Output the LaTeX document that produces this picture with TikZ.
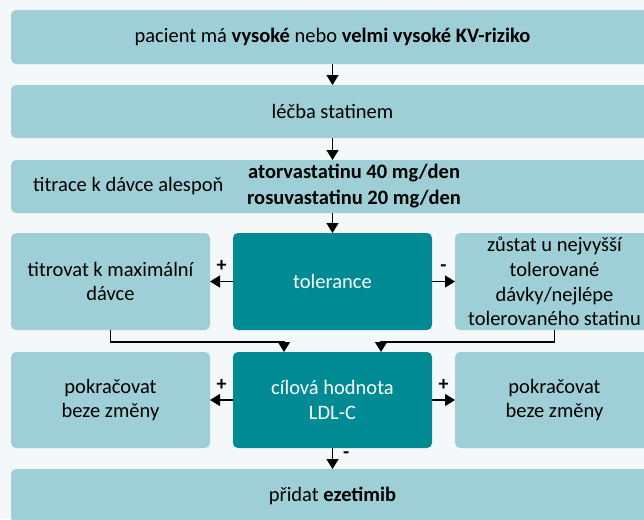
\documentclass[tikz,border=0pt]{standalone}
\usepackage{fontspec}
\setmainfont{Carlito}
\usetikzlibrary{arrows.meta,calc}
\definecolor{lightbox}{HTML}{9FCFD6}
\definecolor{darkbox}{HTML}{008B94}
\definecolor{bgcol}{HTML}{F5F8F8}
\begin{document}
\begin{tikzpicture}[x=1pt,y=-1pt,
  font=\fontsize{20.5}{24.7}\selectfont,
  box/.style={fill=lightbox, draw=none, rounded corners=5pt, inner sep=0pt, outer sep=0pt, align=center},
  dbox/.style={box, fill=darkbox, text=white},
  rowbox/.style={minimum width=199pt},
  widebox/.style={minimum width=643pt},
  txt/.style={inner sep=0pt, align=center},
  arr/.style={line width=1.3pt, -{Triangle[width=12pt,length=10pt]}},
  lbl/.style={inner sep=0pt, font=\fontsize{20}{22}\selectfont\bfseries}]
\fill[bgcol] (0,0) rectangle (644,519);
\useasboundingbox (0,0) rectangle (644,519);
\clip (0,0) rectangle (644,519);

\node[box, widebox, minimum height=54pt] (b1) at (332.5,37) {pacient má \textbf{vysoké} nebo \textbf{velmi vysoké KV-riziko}};
\node[box, widebox, minimum height=53pt] (b2) at (332.5,111.5) {léčba statinem};
\node[box, widebox, minimum height=53pt] (b3) at (332.5,186.5) {};
\node[txt, anchor=west] (t3a) at (33,186.5) {titrace k dávce alespoň};
\node[txt, anchor=west, font=\fontsize{20.5}{26}\selectfont\bfseries] (t3b) at (247,186.5) {atorvastatinu 40 mg/den\\rosuvastatinu 20 mg/den};

\node[box, rowbox, minimum height=97pt] (l1) at (110.5,281.5) {titrovat k maximální\\dávce};
\node[dbox, rowbox, minimum height=97pt] (m1) at (332.5,281.5) {tolerance};
\node[box, rowbox, minimum height=97pt] (r1) at (554.5,281.5) {zůstat u nejvyšší\\tolerované\\dávky/nejlépe\\tolerovaného statinu};

\node[box, rowbox, minimum height=96pt] (l2) at (110.5,400) {pokračovat\\beze změny};
\node[dbox, rowbox, minimum height=96pt] (m2) at (332.5,400) {cílová hodnota\\LDL-C};
\node[box, rowbox, minimum height=96pt] (r2) at (554.5,400) {pokračovat\\beze změny};

\node[box, widebox, minimum height=54pt] (b4) at (332.5,496) {přidat \textbf{ezetimib}};

\draw[arr] (b1) -- (b2);
\draw[arr] (b2) -- (b3);
\draw[arr] (b3) -- (m1);
\draw[arr] (m1) -- node[lbl, above=9pt] {+} (l1);
\draw[arr] (m1) -- node[lbl, above=9pt] {-} (r1);
\draw[arr] (l1.south) -- ++(0,12) -| ([xshift=-48.5pt]m2.north);
\draw[arr] (r1.south) -- ++(0,12) -| ([xshift=48.5pt]m2.north);
\draw[arr] (m2) -- node[lbl, above=9pt] {+} (l2);
\draw[arr] (m2) -- node[lbl, above=9pt] {+} (r2);
\draw[arr] (m2) -- node[lbl, right=10pt, pos=0.35] {-} (b4);
\end{tikzpicture}
\end{document}
